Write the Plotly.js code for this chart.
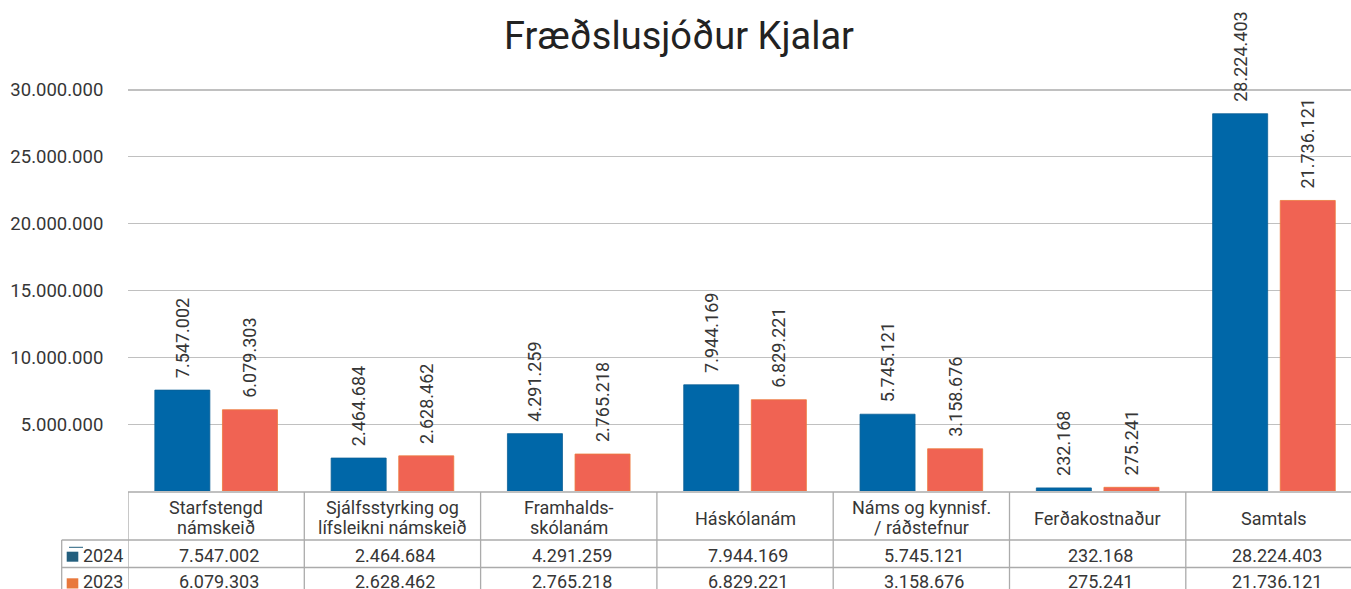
<!DOCTYPE html>
<html>
<head>
<meta charset="utf-8">
<script src="https://cdn.plot.ly/plotly-3.0.1.min.js"></script>
<style>
html,body{margin:0;padding:0;background:#fff;overflow:hidden;}
#chart{width:1351px;height:589px;}
</style>
</head>
<body>
<div id="chart"></div>
<script>
// ---- data ----
const chartTitle = "Fræðslusjóður Kjalar";
const categories = [
  "Starfstengd\nnámskeið",
  "Sjálfsstyrking og\nlífsleikni námskeið",
  "Framhalds-\nskólanám",
  "Háskólanám",
  "Náms og kynnisf.\n/ ráðstefnur",
  "Ferðakostnaður",
  "Samtals"
];
const seriesNames = ["2024", "2023"];
const values2024 = [7547002, 2464684, 4291259, 7944169, 5745121, 232168, 28224403];
const values2023 = [6079303, 2628462, 2765218, 6829221, 3158676, 275241, 21736121];
const yTickVals = [5000000, 10000000, 15000000, 20000000, 25000000, 30000000];

// ---- layout geometry (pixels) ----
const W = 1351, H = 589;
const mL = 128, mR = 0, mT = 40, mB = 98;
const plotW = W - mL - mR, plotH = H - mT - mB;
const colW = 176.3;
const px2x = px => (px - mL) / plotW;
const py2y = py => (H - mB - py) / plotH;

const fmt = n => String(n).replace(/\B(?=(\d{3})+(?!\d))/g, ".");

const textCol = "#363636";
const gridCol = "#c0c0c0";
const tableCol = "#ababab";
const blue = "#0067A8";
const coral = "#F06353";
const key2024 = "#235F7E";
const key2023 = "#E8783C";

const nbsp = "\u00a0\u00a0";

const traces = [
  {
    type: "bar", name: seriesNames[0], x: categories, y: values2024,
    marker: {color: blue, line: {color: "#0b5f95", width: 0.8}},
    texttemplate: nbsp + "%{y:,}", textposition: "outside", textangle: -90,
    textfont: {family: "Roboto", size: 18, color: textCol},
    constraintext: "none", cliponaxis: false, hoverinfo: "x+y"
  },
  {
    type: "bar", name: seriesNames[1], x: categories, y: values2023,
    marker: {color: coral, line: {color: "#EC7A3C", width: 0.8}},
    texttemplate: nbsp + "%{y:,}", textposition: "outside", textangle: -90,
    textfont: {family: "Roboto", size: 18, color: textCol},
    constraintext: "none", cliponaxis: false, hoverinfo: "x+y"
  }
];

// ---- table (shapes + annotations) ----
const shapes = [];
const annotations = [];
const lineStyle = {color: tableCol, width: 1.3};
// top line of table / axis line
shapes.push({type: "line", xref: "paper", yref: "paper", x0: 0, x1: 1, y0: py2y(492), y1: py2y(492), line: lineStyle});
// row lines
[540, 567.5].forEach(py => {
  shapes.push({type: "line", xref: "paper", yref: "paper", x0: px2x(61.7), x1: 1, y0: py2y(py), y1: py2y(py), line: lineStyle});
});
// column boundaries
for (let i = -1; i < categories.length; i++) {
  shapes.push({type: "line", xref: "x", yref: "paper", x0: i + 0.5, x1: i + 0.5, y0: py2y(492), y1: py2y(H + 2), line: lineStyle});
}
// row header left border
shapes.push({type: "line", xref: "paper", yref: "paper", x0: px2x(61.7), x1: px2x(61.7), y0: py2y(540), y1: py2y(H + 2), line: lineStyle});

// legend keys
shapes.push({type: "rect", xref: "paper", yref: "paper", x0: px2x(66.7), x1: px2x(78.3), y0: py2y(561.7), y1: py2y(551.7), fillcolor: key2024, line: {width: 0}});
shapes.push({type: "line", xref: "paper", yref: "paper", x0: px2x(69), x1: px2x(83), y0: py2y(547.3), y1: py2y(547.3), line: {color: key2024, width: 1}});
shapes.push({type: "rect", xref: "paper", yref: "paper", x0: px2x(66.7), x1: px2x(78.3), y0: py2y(588.5), y1: py2y(578.3), fillcolor: key2023, line: {width: 0}});

const tFont = {family: "Roboto", size: 18, color: textCol};
annotations.push({xref: "paper", yref: "paper", x: px2x(81), y: py2y(555), xanchor: "left", yanchor: "middle", text: seriesNames[0], showarrow: false, font: tFont});
annotations.push({xref: "paper", yref: "paper", x: px2x(81), y: py2y(581), xanchor: "left", yanchor: "middle", text: seriesNames[1], showarrow: false, font: tFont});

categories.forEach((c, i) => {
  const lines = c.split("\n");
  if (lines.length === 2) {
    annotations.push({xref: "x", yref: "paper", x: i, y: py2y(507.5), xanchor: "center", yanchor: "middle", text: lines[0], showarrow: false, font: tFont});
    annotations.push({xref: "x", yref: "paper", x: i, y: py2y(527.5), xanchor: "center", yanchor: "middle", text: lines[1], showarrow: false, font: tFont});
  } else {
    annotations.push({xref: "x", yref: "paper", x: i, y: py2y(518.5), xanchor: "center", yanchor: "middle", text: lines[0], showarrow: false, font: tFont});
  }
  annotations.push({xref: "x", yref: "paper", x: i, xshift: 3, y: py2y(555), xanchor: "center", yanchor: "middle", text: fmt(values2024[i]), showarrow: false, font: tFont});
  annotations.push({xref: "x", yref: "paper", x: i, xshift: 3, y: py2y(581), xanchor: "center", yanchor: "middle", text: fmt(values2023[i]), showarrow: false, font: tFont});
});

const pxPerUnit = (491.5 - 90.5) / 30000000;
const yMax = plotH / pxPerUnit;

const layout = {
  width: W, height: H,
  margin: {l: mL, r: mR, t: mT, b: mB, pad: 0},
  paper_bgcolor: "#ffffff", plot_bgcolor: "#ffffff",
  separators: ",.",
  showlegend: false,
  barmode: "group", bargap: 0.233, bargroupgap: 0.186,
  title: {
    text: chartTitle, xref: "container", x: 679 / W, xanchor: "center",
    yref: "container", y: 1 - 36 / H, yanchor: "middle",
    font: {family: "Roboto", size: 38, color: "#222222"}
  },
  xaxis: {
    type: "category", range: [-0.5, -0.5 + plotW / colW],
    showticklabels: false, ticks: "", showgrid: false, zeroline: false, showline: false,
    fixedrange: true
  },
  yaxis: {
    range: [0, yMax], tickvals: yTickVals, tickformat: ",",
    tickfont: {family: "Roboto", size: 18.5, color: textCol},
    ticks: "outside", ticklen: 20, tickcolor: "rgba(0,0,0,0)",
    showgrid: true, gridcolor: gridCol, gridwidth: 1.3,
    zeroline: false, showline: false, fixedrange: true
  },
  shapes: shapes,
  annotations: annotations,
  font: {family: "Roboto", color: textCol}
};

Plotly.newPlot("chart", traces, layout, {displayModeBar: false, staticPlot: true});
</script>
</body>
</html>
